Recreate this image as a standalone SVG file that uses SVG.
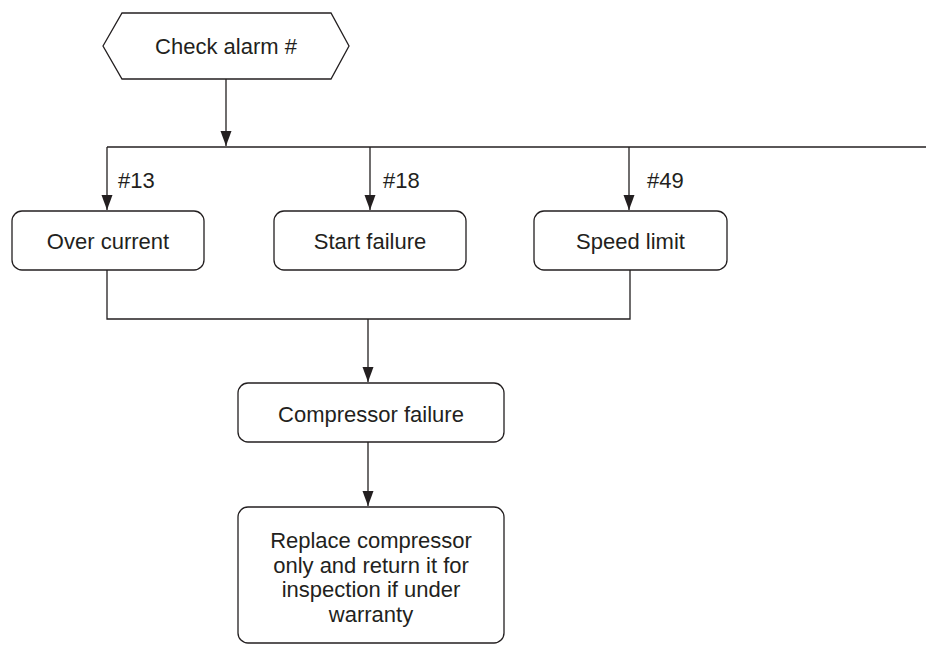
<svg xmlns="http://www.w3.org/2000/svg" width="926" height="646" viewBox="0 0 926 646">
<style>
.shape{fill:#fff;stroke:#231f20;stroke-width:1.3}
.ln{fill:none;stroke:#231f20;stroke-width:1.3}
text{font-family:"Liberation Sans",Arial,sans-serif;font-size:22px;fill:#231f20}
.c{text-anchor:middle}
</style>
<defs>
<marker id="a" markerUnits="userSpaceOnUse" markerWidth="16" markerHeight="12" viewBox="0 0 16 12" refX="15" refY="6" orient="auto">
<path d="M0,0.5 L15,6 L0,11.5 Z" fill="#231f20"/>
</marker>
</defs>
<g id="connectors">
<line class="ln" x1="226" y1="79" x2="226" y2="146" marker-end="url(#a)"/>
<line class="ln" x1="107" y1="147" x2="926" y2="147"/>
<line class="ln" x1="107" y1="147" x2="107" y2="210" marker-end="url(#a)"/>
<line class="ln" x1="370" y1="147" x2="370" y2="210" marker-end="url(#a)"/>
<line class="ln" x1="629" y1="147" x2="629" y2="210" marker-end="url(#a)"/>
<polyline class="ln" points="107,270 107,319 630,319 630,270"/>
<line class="ln" x1="368" y1="319" x2="368" y2="382" marker-end="url(#a)"/>
<line class="ln" x1="368" y1="442" x2="368" y2="506" marker-end="url(#a)"/>
<text x="118" y="188">#13</text>
<text x="383" y="188">#18</text>
<text x="647" y="188">#49</text>
</g>
<g id="check-alarm">
<polygon class="shape" points="103,46 122,13 331,13 349,46 331,79 122,79"/>
<text class="c" x="226" y="54">Check alarm #</text>
</g>
<g id="over-current">
<rect class="shape" x="12" y="211" width="192" height="59" rx="10"/>
<text class="c" x="108" y="249">Over current</text>
</g>
<g id="start-failure">
<rect class="shape" x="274" y="211" width="192" height="59" rx="10"/>
<text class="c" x="370" y="249">Start failure</text>
</g>
<g id="speed-limit">
<rect class="shape" x="534" y="211" width="193" height="59" rx="10"/>
<text class="c" x="630.5" y="249">Speed limit</text>
</g>
<g id="compressor-failure">
<rect class="shape" x="238" y="383" width="266" height="59" rx="10"/>
<text class="c" x="371" y="422">Compressor failure</text>
</g>
<g id="replace-compressor">
<rect class="shape" x="238" y="507" width="266" height="136" rx="10"/>
<text class="c" x="371" y="548">Replace compressor</text>
<text class="c" x="371" y="573">only and return it for</text>
<text class="c" x="371" y="597">inspection if under</text>
<text class="c" x="371" y="622">warranty</text>
</g>
</svg>
